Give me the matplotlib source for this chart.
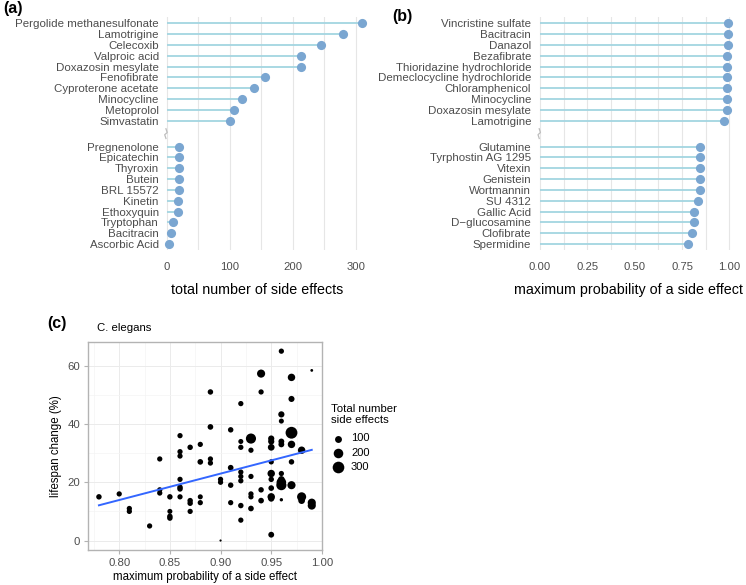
import numpy as np
import matplotlib
matplotlib.use("Agg")
import matplotlib.pyplot as plt

plt.rcParams['font.family'] = ['Liberation Sans', 'DejaVu Sans']

# =====================================
# Data
# =====================================
# (a) total number of side effects: top 10 and bottom 10 compounds
a_top_names = ["Pergolide methanesulfonate", "Lamotrigine", "Celecoxib", "Valproic acid",
               "Doxazosin mesylate", "Fenofibrate", "Cyproterone acetate", "Minocycline",
               "Metoprolol", "Simvastatin"]
a_top_vals = [309, 280, 244, 212, 212, 156, 138, 120, 106, 100]
a_bot_names = ["Pregnenolone", "Epicatechin", "Thyroxin", "Butein", "BRL 15572", "Kinetin",
               "Ethoxyquin", "Tryptophan", "Bacitracin", "Ascorbic Acid"]
a_bot_vals = [19.5, 19, 19, 19, 19, 18, 17, 10, 6.5, 3]

# (b) maximum probability of a side effect
b_top_names = ["Vincristine sulfate", "Bacitracin", "Danazol", "Bezafibrate",
               "Thioridazine hydrochloride", "Demeclocycline hydrochloride", "Chloramphenicol",
               "Minocycline", "Doxazosin mesylate", "Lamotrigine"]
b_top_vals = [0.995, 0.995, 0.995, 0.986, 0.986, 0.986, 0.986, 0.986, 0.986, 0.974]
b_bot_names = ["Glutamine", "Tyrphostin AG 1295", "Vitexin", "Genistein", "Wortmannin",
               "SU 4312", "Gallic Acid", "D\u2212glucosamine", "Clofibrate", "Spermidine"]
b_bot_vals = [0.845, 0.845, 0.845, 0.845, 0.845, 0.836, 0.813, 0.813, 0.805, 0.783]

# (c) C. elegans: max probability, lifespan change (%), total number of side effects
c_prob = [0.78, 0.80, 0.81, 0.81, 0.83,
          0.84, 0.84, 0.84,
          0.85, 0.85, 0.85, 0.85,
          0.86, 0.86, 0.86, 0.86, 0.86, 0.86, 0.86,
          0.87, 0.87, 0.87, 0.87,
          0.88, 0.88, 0.88, 0.88,
          0.89, 0.89, 0.89, 0.89,
          0.90, 0.90, 0.90,
          0.91, 0.91, 0.91, 0.91,
          0.92, 0.92, 0.92, 0.92, 0.92, 0.92, 0.92, 0.92,
          0.93, 0.93, 0.93, 0.93, 0.93, 0.93,
          0.94, 0.94, 0.94, 0.94,
          0.95, 0.95, 0.95, 0.95, 0.95, 0.95, 0.95, 0.95, 0.95, 0.95,
          0.96, 0.96, 0.96, 0.96, 0.96, 0.96, 0.96, 0.96, 0.96, 0.96,
          0.97, 0.97, 0.97, 0.97, 0.97, 0.97,
          0.98, 0.98, 0.98,
          0.99, 0.99, 0.99]
c_change = [15, 16, 11, 10, 5,
            28, 17.4, 16.3,
            15, 10, 8.3, 7.7,
            36, 30.5, 29, 21, 18.3, 17.7, 15,
            32, 13.7, 12.8, 10,
            33, 27, 15, 13,
            51, 39, 28, 26.6,
            21, 20, 0,
            38, 25, 19, 13,
            47, 34, 32, 23.5, 22, 20.5, 12, 7,
            35, 31, 22, 16, 15, 11,
            57.3, 51, 17.4, 13.7,
            35, 34, 32, 27, 23, 21, 18, 15, 14.4, 2,
            65, 43.3, 41, 34, 33, 23, 21, 20, 19, 14,
            56, 48.6, 37, 33, 27, 19,
            31, 15, 13.7,
            58.4, 13, 12]
c_nse = [60, 55, 55, 55, 55,
         55, 55, 55,
         60, 50, 60, 60,
         55, 55, 55, 55, 60, 60, 55,
         60, 60, 60, 55,
         55, 65, 50, 55,
         60, 65, 55, 55,
         55, 55, 3,
         60, 65, 60, 55,
         55, 50, 55, 55, 55, 55, 60, 55,
         225, 55, 55, 55, 55, 65,
         142, 55, 60, 65,
         80, 80, 95, 55, 118, 60, 65, 118, 80, 70,
         55, 80, 50, 70, 70, 55, 90, 200, 225, 18,
         118, 76, 309, 118, 60, 142,
         118, 180, 95,
         10, 142, 142]
legend_nse = [100, 200, 300]

# =====================================
# Styles
# =====================================
seg_col = '#a3d5e1'
dot_col = '#7aa6d1'
grid_col = '#e6e6e6'
txt_grey = '#4d4d4d'

fig = plt.figure(figsize=(7.46, 5.85), dpi=100)
W, H = 746.0, 585.0


def px_axes(left, top, right, bottom):
    return fig.add_axes([left / W, 1 - bottom / H, (right - left) / W, (bottom - top) / H])


def lollipop(ax, top_names, top_vals, bot_names, bot_vals, xlim, major, minor, xlabel,
             ticklabels, label_x):
    gap = 2.405
    y_top = np.arange(len(top_vals))
    y_bot = len(top_vals) - 1 + gap + np.arange(len(bot_vals))
    ys = np.concatenate([y_top, y_bot])
    vals = np.concatenate([top_vals, bot_vals])
    names = list(top_names) + list(bot_names)

    ax.set_xlim(*xlim)
    ax.set_ylim(y_bot[-1] + 0.56, -0.61)
    for x in list(major) + list(minor):
        ax.axvline(x, color=grid_col, lw=0.8, zorder=0)
    ax.hlines(ys, 0, vals, color=seg_col, lw=1.3, zorder=2)
    ax.plot(vals, ys, 'o', color=dot_col, ms=6.6, mew=0, zorder=3, clip_on=False)

    ax.set_yticks(ys)
    ax.set_yticklabels(names, fontsize=8.25, color=txt_grey)
    ax.set_xticks(major)
    ax.set_xticklabels(ticklabels, fontsize=8.1, color=txt_grey)
    ax.tick_params(axis='both', length=0)
    ax.tick_params(axis='y', pad=3)
    ax.tick_params(axis='x', pad=9)
    for s in ax.spines.values():
        s.set_visible(False)
    ax.set_xlabel(xlabel, fontsize=10.3)
    ax.xaxis.set_label_coords(label_x, -0.171)
    ax.xaxis.label.set_va('center')

    # axis break mark between the two groups
    span = xlim[1] - xlim[0]
    ym = (y_top[-1] + y_bot[0]) / 2
    zx = np.array([0.0, 0.006, -0.006, 0.0]) * span - 0.004 * span
    zy = np.array([ym - 0.45, ym - 0.1, ym + 0.1, ym + 0.45])
    ax.plot(zx, zy, color='#bdbdbd', lw=0.9, clip_on=False, zorder=4)


# =====================================
# (a) total number of side effects
# =====================================
ax_a = px_axes(163, 16.7, 371.8, 250)
lollipop(ax_a, a_top_names, a_top_vals, a_bot_names, a_bot_vals,
         (-6, 325), [0, 100, 200, 300], [50, 150, 250],
         'total number of side effects', ['0', '100', '200', '300'],
         (257.5 - 163) / (371.8 - 163))

# =====================================
# (b) maximum probability of a side effect
# =====================================
ax_b = px_axes(535.3, 16.7, 736.9, 250)
lollipop(ax_b, b_top_names, b_top_vals, b_bot_names, b_bot_vals,
         (-0.025, 1.04), [0, 0.25, 0.5, 0.75, 1.0], [0.125, 0.375, 0.625, 0.875],
         'maximum probability of a side effect', ['0.00', '0.25', '0.50', '0.75', '1.00'],
         (628 - 535.3) / (736.9 - 535.3))

# =====================================
# (c) scatter, C. elegans
# =====================================
n_min, n_max = 1, 310


def size_area(n):
    sz = np.sqrt(1 + 35 * (np.asarray(n, float) - n_min) / (n_max - n_min))
    return (1.42 * sz) ** 2


ax_c = px_axes(88.3, 341.7, 322.4, 550)
ax_c.set_xlim(0.7695, 1.0005)
ax_c.set_ylim(-3.25, 68.25)
ax_c.set_xticks([0.80, 0.85, 0.90, 0.95, 1.00])
ax_c.set_xticks([0.775, 0.825, 0.875, 0.925, 0.975], minor=True)
ax_c.set_yticks([0, 20, 40, 60])
ax_c.set_yticks([10, 30, 50], minor=True)
ax_c.set_xticklabels(['0.80', '0.85', '0.90', '0.95', '1.00'])
ax_c.grid(which='major', color='#ebebeb', lw=0.7)
ax_c.grid(which='minor', color='#f4f4f4', lw=0.5)
ax_c.set_axisbelow(True)
ax_c.tick_params(which='major', length=3, color='#b3b3b3', labelsize=8.2, labelcolor=txt_grey, pad=3)
ax_c.tick_params(which='minor', length=0)
for s in ax_c.spines.values():
    s.set_color('#b3b3b3')
    s.set_linewidth(1.0)

ax_c.scatter(c_prob, c_change, s=size_area(c_nse), color='black', linewidths=0, zorder=3)

# linear fit
k, b0 = np.polyfit(c_prob, c_change, 1)
xs = np.array([min(c_prob), max(c_prob)])
ax_c.plot(xs, k * xs + b0, color='#3366FF', lw=1.4, zorder=4)

ax_c.set_xlabel('maximum probability of a side effect', fontsize=8.3, labelpad=2)
ax_c.set_ylabel('lifespan change (%)', fontsize=8.3, labelpad=4)

handles = [ax_c.scatter([], [], s=size_area(n), color='black', linewidths=0) for n in legend_nse]
leg = ax_c.legend(handles, [str(n) for n in legend_nse], title='Total number\nside effects',
                  loc='upper left', bbox_to_anchor=(331 / W, 1 - 403.5 / H),
                  bbox_transform=fig.transFigure, frameon=False, fontsize=8.0,
                  title_fontsize=8.2, borderpad=0, borderaxespad=0, handlelength=1.2,
                  handletextpad=0.6, labelspacing=0.39)
leg._legend_box.align = 'left'
leg._legend_box.sep = 6

fig.text(96.7 / W, 1 - 328.3 / H, 'C. elegans', fontsize=8.2, va='center', ha='left')

# panel labels
fig.text(12.5 / W, 1 - 8.5 / H, '(a)', fontsize=11.5, fontweight='bold', ha='center', va='center')
fig.text(402 / W, 1 - 16.7 / H, '(b)', fontsize=11.5, fontweight='bold', ha='center', va='center')
fig.text(56.7 / W, 1 - 323.3 / H, '(c)', fontsize=11.5, fontweight='bold', ha='center', va='center')

fig.savefig('out.png', dpi=100)
